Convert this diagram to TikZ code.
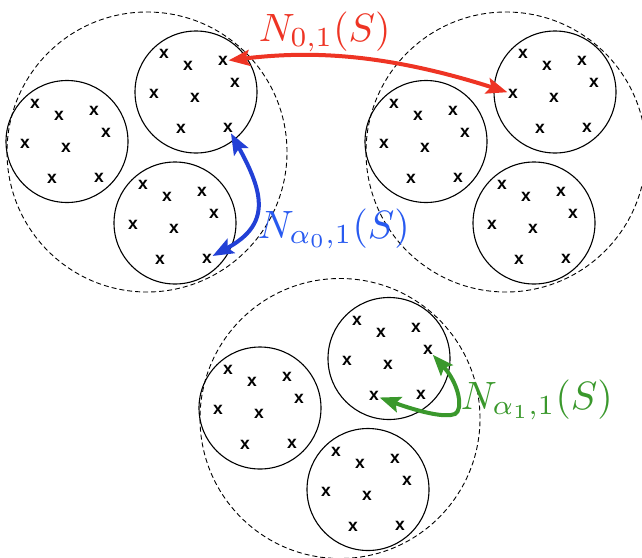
\documentclass[tikz,border=0pt]{standalone}
\usepackage{fontspec}
\newfontfamily\xfont{Liberation Sans}
\usetikzlibrary{arrows.meta}
\definecolor{myred}{RGB}{238,52,36}
\definecolor{myblue}{RGB}{34,64,214}
\definecolor{mybluetext}{RGB}{40,90,240}
\definecolor{mygreen}{RGB}{58,152,44}
\tikzset{
  smallc/.style={circle,draw,line width=1.1pt,minimum size=122pt,inner sep=0pt},
  bigc/.style={circle,draw,line width=0.9pt,dash pattern=on 5pt off 3pt,minimum size=280pt,inner sep=0pt},
  xmark/.style={font=\xfont\bfseries\fontsize{17.5}{17.5}\selectfont,inner sep=0.5pt},
  lab/.style={scale=3.95,anchor=base west,inner sep=0pt},
  arr/.style={line width=4pt,
    {Stealth[length=21pt,width=16pt,inset=4pt]}-{Stealth[length=21pt,width=16pt,inset=4pt]}}
}
\newcommand\xcirc[3]{%
  \node[smallc] (#1) at ({#2},{#3}) {};
  \foreach \dx/\dy [count=\i] in {-32/-38,-8/-26,27/-31,39/-9,-42/2,-1/6,-15/37,32/36}
    \node[xmark] (#1\i) at ({#2+\dx},{#3+\dy}) {x};
}
\newcommand\xcluster[3]{%
  \node[bigc] (#1d) at ({#2+80},{#3+10.5}) {};
  \xcirc{#1l}{#2}{#3}
  \xcirc{#1t}{#2+129}{#3-49.5}
  \xcirc{#1b}{#2+108}{#3+81.5}
}
\begin{document}
\begin{tikzpicture}[x=1pt,y=-1pt]
\useasboundingbox (0,0) rectangle (642,557);
\clip (0,0) rectangle (642,557);
\xcluster{a}{67}{141.5}
\xcluster{b}{426}{141.5}
\xcluster{c}{260}{408}
% labels
\node[lab,text=myred] (lab0) at (258,41) {$N_{0,1}(S)$};
\node[lab,text=mybluetext] (laba0) at (257,238) {$N_{\alpha_0,1}(S)$};
\node[lab,text=mygreen] (laba1) at (460,409) {$N_{\alpha_1,1}(S)$};
% arrows
\draw[arr,myred] (at3) .. controls (300,52) and (375,50) .. (bt5);
\draw[arr,myblue] (at8) .. controls (265,195) and (270,225) .. (ab8);
\draw[arr,mygreen] (ct7) .. controls (420,412) and (445,418) .. (455,414)
   .. controls (463,410) and (460,385) .. (ct4);
\end{tikzpicture}
\end{document}
